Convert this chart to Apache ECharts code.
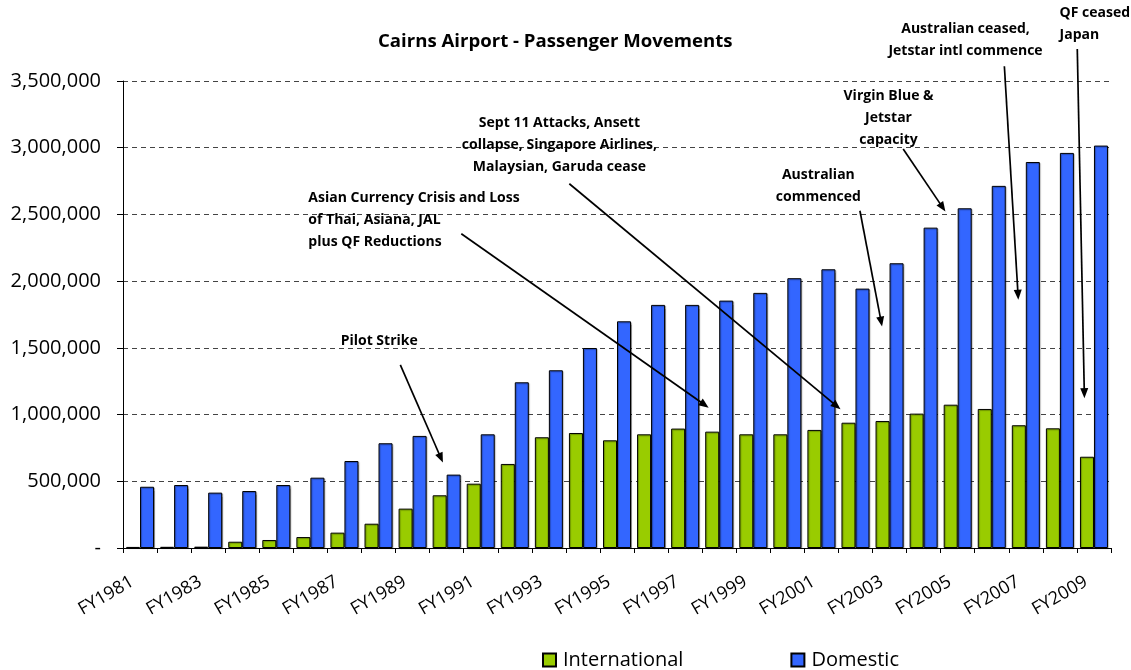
<!DOCTYPE html>
<html><head><meta charset="utf-8">
<script src="https://cdn.jsdelivr.net/npm/echarts@6/dist/echarts.min.js"></script>
<style>html,body{margin:0;padding:0;background:#fff}#c{width:1131px;height:670px}</style>
</head><body><div id="c"></div>
<script>
const categories = ['FY1981','FY1982','FY1983','FY1984','FY1985','FY1986','FY1987','FY1988','FY1989','FY1990',
  'FY1991','FY1992','FY1993','FY1994','FY1995','FY1996','FY1997','FY1998','FY1999','FY2000',
  'FY2001','FY2002','FY2003','FY2004','FY2005','FY2006','FY2007','FY2008','FY2009'];
const international = [8000, 9000, 10000, 47000, 60000, 82000, 115000, 182000, 295000, 395000,
  482000, 630000, 830000, 862000, 807000, 852000, 895000, 872000, 852000, 852000,
  885000, 939000, 952000, 1007000, 1074000, 1042000, 920000, 897000, 684000];
const domestic = [459000, 472000, 415000, 427000, 472000, 527000, 652000, 785000, 840000, 550000,
  852000, 1242000, 1332000, 1499000, 1699000, 1822000, 1822000, 1854000, 1912000, 2022000,
  2089000, 1944000, 2134000, 2401000, 2546000, 2714000, 2893000, 2961000, 3016000];
const seriesNames = ['International', 'Domestic'];
const yMin = 0, yMax = 3500000, yStep = 500000;
const chartTitle = 'Cairns Airport - Passenger Movements';

// annotations: text anchor and arrow ends in data space [category index, passengers]
const noteTexts = [
  'Pilot Strike',
  'Asian Currency Crisis and Loss\nof Thai, Asiana, JAL\nplus QF Reductions',
  'Sept 11 Attacks, Ansett\ncollapse, Singapore Airlines,\nMalaysian, Garuda cease',
  'Australian\ncommenced',
  'Virgin Blue &\nJetstar\ncapacity',
  'Australian ceased,\nJetstar intl commence',
  'QF ceased\nJapan'
];
const noteAnchors = [[7.02,1552500],[4.94,2625000],[12.31,3185000],[19.91,2797500],[21.97,3390000],[24.23,3890000],[26.99,4010000]];
const noteAlign = ['center','left','center','center','center','center','left'];
const arrowFrom = [[7.64,1372500],[9.43,2355000],[12.60,2730000],[21.13,2527500],[22.40,2990000],[25.37,3610000],[27.51,3740000]];
const arrowTo = [[8.89,640000],[16.69,1052000],[20.56,1040000],[21.78,1660000],[23.64,2522000],[25.78,1860000],[27.72,1122750]];

const FONT = '"Open Sans", "DejaVu Sans", sans-serif';
const chart = echarts.init(document.getElementById('c'), null, {renderer: 'canvas'});

const barStyle = (color) => ({
  color: color, borderColor: '#000', borderWidth: 1,
  shadowColor: 'rgba(0,0,0,0.3)', shadowOffsetX: 1, shadowOffsetY: 1, shadowBlur: 1
});

chart.setOption({
  animation: false,
  backgroundColor: '#fff',
  title: {
    text: chartTitle, left: 378, top: 32, padding: 0,
    textStyle: {fontFamily: FONT, fontSize: 18.6, fontWeight: 'bold', color: '#000'}
  },
  legend: {
    data: seriesNames, left: 542, top: 650, padding: 0,
    itemWidth: 13, itemHeight: 13, itemGap: 107, icon: 'rect',
    textStyle: {fontFamily: FONT, fontSize: 20, color: '#000', padding: [0,0,0,2]}
  },
  grid: {left: 123, right: 20, top: 81, bottom: 122, containLabel: false},
  xAxis: {
    type: 'category', data: categories,
    axisLine: {lineStyle: {color: '#000', width: 1}},
    axisTick: {show: true, interval: 0, length: 5, lineStyle: {color: '#000'}},
    axisLabel: {interval: 1, rotate: 30, margin: 28, padding: [0, 9, 0, 0], fontFamily: FONT, fontSize: 18, color: '#000'}
  },
  yAxis: {
    type: 'value', min: yMin, max: yMax, interval: yStep,
    axisLine: {show: true, lineStyle: {color: '#000', width: 1}},
    axisTick: {show: true, length: 6, lineStyle: {color: '#000'}},
    axisLabel: {
      margin: 22, fontFamily: FONT, fontSize: 20, color: '#000',
      formatter: v => v === 0 ? '-' : v.toLocaleString('en-US')
    },
    splitLine: {show: true, lineStyle: {color: '#444', type: [5, 4], width: 1}}
  },
  series: [
    {name: seriesNames[0], type: 'bar', data: international, barWidth: 14, barGap: '0%', itemStyle: barStyle('#99CC00')},
    {name: seriesNames[1], type: 'bar', data: domestic, barWidth: 14, barGap: '0%', itemStyle: barStyle('#3366FF')}
  ]
});

// place annotations through the chart's own scales
const cx0 = chart.convertToPixel({xAxisIndex: 0}, categories[0]);
const cx1 = chart.convertToPixel({xAxisIndex: 0}, categories[1]);
const toPx = p => [cx0 + p[0] * (cx1 - cx0), chart.convertToPixel({yAxisIndex: 0}, p[1])];
const LH = 22;
const graphics = [];
noteTexts.forEach((t, i) => {
  const a = toPx(noteAnchors[i]);
  graphics.push({
    type: 'text', x: a[0], y: a[1] - LH / 2, z: 100,
    style: {text: t, font: 'bold 14px ' + FONT, fill: '#000', align: noteAlign[i], verticalAlign: 'top', lineHeight: LH}
  });
  const s = toPx(arrowFrom[i]), e = toPx(arrowTo[i]);
  const dx = e[0] - s[0], dy = e[1] - s[1], L = Math.hypot(dx, dy);
  const ux = dx / L, uy = dy / L, hl = 10, hw = 4;
  const bx = e[0] - ux * hl, by = e[1] - uy * hl;
  graphics.push({
    type: 'line', z: 100,
    shape: {x1: s[0], y1: s[1], x2: bx + ux * 2, y2: by + uy * 2},
    style: {stroke: '#000', lineWidth: 1.7}
  });
  graphics.push({
    type: 'polygon', z: 100,
    shape: {points: [[e[0], e[1]], [bx - uy * hw, by + ux * hw], [bx + uy * hw, by - ux * hw]]},
    style: {fill: '#000'}
  });
});
chart.setOption({graphic: graphics});
</script>
</body></html>
